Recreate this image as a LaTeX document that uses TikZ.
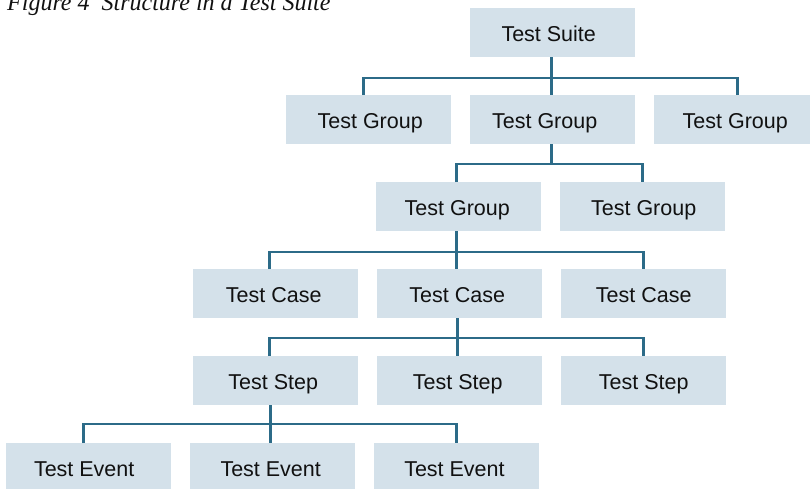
\documentclass[tikz,border=0pt]{standalone}
\usepackage{fontspec}
\setmainfont{Liberation Sans}
\newfontfamily\captionfont{Liberation Serif}
\definecolor{boxfill}{HTML}{D4E1EA}
\definecolor{linkblue}{HTML}{2C6B88}
\definecolor{ink}{HTML}{111111}
\begin{document}
\begin{tikzpicture}[x=1pt,y=-1pt,
  item/.style={rectangle, fill=boxfill, draw=none, inner sep=0pt,
    minimum width=165pt, minimum height=49pt, anchor=north west,
    text height=18pt, text depth=0pt,
    text=ink, font=\fontsize{21.5}{24}\selectfont},
  % shifts the label sideways by half the given amount
  nudge/.style={execute at begin node={\hspace*{#1}}},
  conn/.style={draw=linkblue, line width=2.6pt}]
\useasboundingbox (0,0) rectangle (810,488);
\clip (0,0) rectangle (810,488);

% caption
\node[anchor=base west, inner sep=0pt, text=ink,
  font=\captionfont\itshape\fontsize{24}{27}\selectfont] (cap) at (7,10)
  {Figure 4\ \ Structure in a Test Suite};

% level 1
\node[item, nudge=-8pt] (suite) at (470,8) {Test Suite};
% level 2
\node[item, nudge=3pt] (g1) at (286,95) {Test Group};
\node[item, nudge=-16pt] (g2) at (470,95) {Test Group};
\node[item, nudge=-3pt] (g3) at (654,95) {Test Group};
% level 3
\node[item, nudge=-3pt] (g21) at (376,182) {Test Group};
\node[item, nudge=2pt] (g22) at (560,182) {Test Group};
% level 4
\node[item, nudge=-4pt] (c1) at (193,269) {Test Case};
\node[item, nudge=-5pt] (c2) at (377,269) {Test Case};
\node[item] (c3) at (561,269) {Test Case};
% level 5
\node[item, nudge=-5pt] (s1) at (193,356) {Test Step};
\node[item, nudge=-4pt] (s2) at (377,356) {Test Step};
\node[item] (s3) at (561,356) {Test Step};
% level 6
\node[item, nudge=-9pt] (e1) at (6,443) {Test Event};
\node[item, nudge=-4pt] (e2) at (190,443) {Test Event};
\node[item, nudge=-4.5pt] (e3) at (374,443) {Test Event};

% suite -> groups
\draw[conn] ([xshift=-5.5pt]g1.north) -- ++(0,-17) -| ([xshift=0.5pt]g3.north);
\draw[conn] ([xshift=-1.5pt]suite.south) -- ([xshift=-1.5pt]g2.north);
% group -> subgroups
\draw[conn] ([xshift=-2.5pt]g21.north) -- ++(0,-18) -| ([xshift=-0.5pt]g22.north);
\draw[conn] ([xshift=-1.5pt]g2.south) -- ++(0,20);
% subgroup -> cases
\draw[conn] ([xshift=-6.5pt]c1.north) -- ++(0,-17) -| ([xshift=-0.5pt]c3.north);
\draw[conn] ([xshift=-2.5pt]g21.south) -- ([xshift=-3.5pt]c2.north);
% case -> steps
\draw[conn] ([xshift=-6.5pt]s1.north) -- ++(0,-18) -| ([xshift=-0.5pt]s3.north);
\draw[conn] ([xshift=-2.5pt]c2.south) -- ([xshift=-2.5pt]s2.north);
% step -> events
\draw[conn] ([xshift=-5.5pt]e1.north) -- ++(0,-19) -| ([xshift=-0.5pt]e3.north);
\draw[conn] ([xshift=-5.5pt]s1.south) -- ([xshift=-2.5pt]e2.north);
\end{tikzpicture}
\end{document}
